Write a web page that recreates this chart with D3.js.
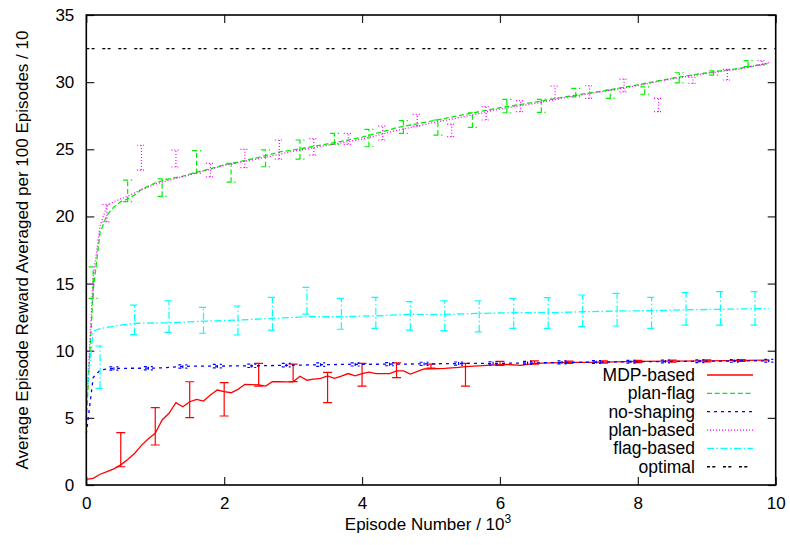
<!DOCTYPE html>
<html><head><meta charset="utf-8">
<script src="https://cdn.jsdelivr.net/npm/d3@7"></script>
<style>body{margin:0;background:#fff}svg{display:block}text{font-family:"Liberation Sans",Arial,sans-serif}</style>
</head><body><svg id="c" width="790" height="545"></svg>
<script>
const xTicks=[0,2,4,6,8,10];
const yTicks=[0,5,10,15,20,25,30,35];
const seriesNames=["MDP-based","plan-flag","no-shaping","plan-based","flag-based","optimal"];
const mdpBased=[[0,0.42],[0.1,0.5],[0.2,0.8],[0.3,0.99],[0.4,1.2],[0.5,1.5],[0.6,1.9],[0.7,2.35],[0.8,2.95],[0.9,3.45],[1.0,3.85],[1.1,4.84],[1.2,5.34],[1.3,6.13],[1.4,5.83],[1.5,6.2],[1.6,6.38],[1.7,6.25],[1.8,6.7],[1.9,7.07],[2.0,6.95],[2.1,6.87],[2.2,7.12],[2.3,7.5],[2.4,7.48],[2.5,7.45],[2.6,7.37],[2.7,7.69],[2.8,7.7],[2.9,7.68],[3.0,7.69],[3.1,8.1],[3.2,7.8],[3.3,7.88],[3.4,7.94],[3.5,8.13],[3.6,7.94],[3.7,8.1],[3.8,8.3],[3.9,8.13],[4.0,8.3],[4.1,8.41],[4.2,8.3],[4.4,8.3],[4.5,8.5],[4.6,8.5],[4.7,8.26],[4.9,8.64],[5.2,8.69],[5.4,8.76],[5.5,8.81],[6.0,8.96],[6.1,8.98],[6.3,8.91],[6.5,9.06],[7.0,9.13],[7.3,9.13],[8.0,9.2],[9.0,9.25],[9.9,9.3]];
const mdpErr=[[0.5,1.36,3.9],[1.0,2.98,5.76],[1.5,5.01,7.69],[2.0,5.14,7.62],[2.5,7.37,9.06],[3.0,7.7,9.0],[3.5,6.13,8.39],[4.0,7.37,9.06],[4.5,7.99,9.1],[5.0,8.7,9.0],[5.5,7.37,9.06],[6.0,8.9,9.2],[6.5,9.0,9.25],[7.0,9.05,9.22],[7.5,9.08,9.24],[8.0,9.12,9.28],[8.5,9.14,9.3],[9.0,9.17,9.32],[9.5,9.2,9.34]];
const planFlag=[[0,4.8],[0.1,14.5],[0.2,18.8],[0.3,20.1],[0.4,20.7],[0.5,21.1],[0.6,21.3],[0.7,21.6],[0.8,22.0],[1.0,22.5],[1.2,22.8],[1.4,23.0],[1.6,23.3],[1.8,23.55],[2.0,23.85],[2.2,24.05],[2.5,24.4],[2.8,24.8],[3.0,24.95],[3.5,25.4],[4.0,25.9],[4.5,26.6],[5.0,27.1],[5.5,27.6],[6.0,28.1],[6.5,28.5],[7.0,28.95],[7.5,29.35],[8.0,29.8],[8.5,30.3],[9.0,30.7],[9.5,31.05],[9.9,31.4]];
const planFlagErr=[[0.1,13.9,16.25],[0.6,21.1,22.7],[1.1,21.5,22.8],[1.6,23.2,24.9],[2.1,22.55,23.95],[2.6,23.7,24.95],[3.1,24.27,25.69],[3.6,25.37,26.19],[4.1,25.19,26.48],[4.6,26.19,27.13],[5.1,26.06,27.18],[5.6,26.63,27.72],[6.1,27.72,28.72],[6.6,27.75,28.72],[7.1,28.9,29.53],[7.6,28.79,29.41],[8.1,29.1,29.65],[8.6,29.95,30.7],[9.1,30.53,30.85],[9.6,31.15,31.6]];
const noShaping=[[0,3.8],[0.1,8.0],[0.2,8.55],[0.3,8.65],[0.5,8.69],[1.0,8.7],[1.5,8.85],[2.0,8.86],[2.5,8.88],[3.0,8.92],[3.7,8.98],[4.5,9.0],[5.5,9.05],[6.0,9.06],[7.0,9.13],[8.0,9.18],[9.0,9.22],[9.9,9.25]];
const noShapingErr=[[0.4,8.55,8.8],[0.9,8.58,8.82],[1.4,8.7,8.95],[1.9,8.72,8.98],[2.4,8.75,9.0],[2.9,8.8,9.05],[3.4,8.84,9.1],[3.9,8.86,9.1],[4.4,8.88,9.12],[4.9,8.9,9.14],[5.4,8.93,9.16],[5.9,8.95,9.18],[6.4,8.98,9.2],[6.9,9.02,9.24],[7.4,9.05,9.26],[7.9,9.08,9.28],[8.4,9.1,9.3],[8.9,9.12,9.32],[9.4,9.14,9.34],[9.9,9.15,9.35]];
const planBased=[[0,5.5],[0.1,15.5],[0.2,19.3],[0.3,20.8],[0.4,21.1],[0.5,21.3],[0.6,21.5],[0.8,22.0],[1.0,22.4],[1.2,22.7],[1.5,23.1],[2.0,23.8],[2.5,24.3],[3.0,24.85],[3.5,25.3],[4.0,25.75],[4.5,26.4],[5.0,26.95],[5.5,27.45],[6.0,28.0],[6.5,28.4],[7.0,28.9],[7.5,29.3],[8.0,29.75],[8.5,30.25],[9.0,30.65],[9.5,31.0],[9.9,31.45]];
const planBasedErr=[[0.3,19.6,20.9],[0.8,23.45,25.3],[1.3,23.68,24.94],[1.8,22.95,23.95],[2.3,23.63,25.0],[2.8,24.27,25.69],[3.3,24.57,25.8],[3.8,25.37,26.19],[4.3,25.69,26.73],[4.8,26.73,27.6],[5.3,25.94,26.88],[5.8,27.18,28.17],[6.3,27.8,28.62],[6.8,28.8,29.7],[7.3,28.79,29.73],[7.8,29.28,30.23],[8.3,27.8,28.79],[8.8,29.9,30.35],[9.3,30.16,30.95],[9.8,31.27,31.6]];
const flagBased=[[0,6.5],[0.1,11.45],[0.2,11.65],[0.5,11.9],[0.7,12.04],[1.2,12.08],[1.7,12.2],[2.2,12.28],[2.7,12.41],[3.2,12.53],[3.7,12.53],[4.2,12.6],[4.7,12.71],[5.2,12.71],[5.7,12.78],[6.2,12.83],[6.7,12.83],[7.2,12.9],[7.7,12.96],[8.2,12.98],[8.7,13.05],[9.2,13.08],[9.7,13.13],[9.9,13.13]];
const flagBasedErr=[[0.2,7.2,10.35],[0.7,11.2,13.4],[1.2,11.37,13.72],[1.7,11.3,13.23],[2.2,11.17,13.33],[2.7,11.54,13.97],[3.2,12.73,14.72],[3.7,11.6,13.9],[4.2,11.67,13.97],[4.7,11.54,13.65],[5.2,11.49,13.72],[5.7,11.41,13.72],[6.2,11.67,13.9],[6.7,11.67,13.95],[7.2,11.79,14.15],[7.7,11.84,14.27],[8.2,11.67,13.97],[8.7,11.91,14.32],[9.2,11.91,14.4],[9.7,11.91,14.4]];
const optimal=[[0,32.5],[10,32.5]];

const svg=d3.select("#c");
const L=86.3,R=775.7,T=15,B=485;
const x=d3.scaleLinear().domain([0,10]).range([L,R]);
const y=d3.scaleLinear().domain([0,35]).range([B,T]);
const fs=17;

const styles=[
 {name:seriesNames[0],data:mdpBased,err:mdpErr,color:"#ff0000",dash:null},
 {name:seriesNames[1],data:planFlag,err:planFlagErr,color:"#00ee00",dash:"5,2.7"},
 {name:seriesNames[2],data:noShaping,err:noShapingErr,color:"#0000ff",dash:"3,4"},
 {name:seriesNames[3],data:planBased,err:planBasedErr,color:"#ff00ff",dash:"1,2"},
 {name:seriesNames[4],data:flagBased,err:flagBasedErr,color:"#00ffff",dash:"7,2.5,1.5,2.5"},
 {name:seriesNames[5],data:optimal,err:[],color:"#000000",dash:"3,2.3,3,7.7"}
];

const gL=svg.append("g").attr("transform",`translate(${L},0)`).call(d3.axisLeft(y).tickValues(yTicks).tickSize(-8).tickPadding(12));
const gB=svg.append("g").attr("transform",`translate(0,${B})`).call(d3.axisBottom(x).tickValues(xTicks).tickSize(-8).tickPadding(12));
const gR=svg.append("g").attr("transform",`translate(${R},0)`).call(d3.axisRight(y).tickValues(yTicks).tickSize(-8).tickFormat(""));
const gT=svg.append("g").attr("transform",`translate(0,${T})`).call(d3.axisTop(x).tickValues(xTicks).tickSize(-8).tickFormat(""));
[gL,gB,gR,gT].forEach(g=>{g.select(".domain").remove();g.selectAll("line").attr("stroke","#222").attr("stroke-width",1.2);g.selectAll("text").attr("font-size",fs).attr("fill","#000").attr("font-family","Liberation Sans, Arial, sans-serif");});

const line=d3.line().x(d=>x(d[0])).y(d=>y(d[1]));
const plot=svg.append("g");
styles.forEach(s=>{
  const g=plot.append("g");
  const eg=g.selectAll("g.e").data(s.err).join("g");
  const cw=4.5;
  eg.append("path").attr("d",d=>`M${x(d[0])},${y(d[1])}V${y(d[2])}M${x(d[0])-cw},${y(d[1])}H${x(d[0])+cw}M${x(d[0])-cw},${y(d[2])}H${x(d[0])+cw}`)
    .attr("fill","none").attr("stroke",s.color).attr("stroke-width",1.2).attr("stroke-dasharray",s.dash);
  g.append("path").datum(s.data).attr("d",line).attr("fill","none").attr("stroke",s.color).attr("stroke-width",1.3).attr("stroke-dasharray",s.dash);
});

svg.append("rect").attr("x",L).attr("y",T).attr("width",R-L).attr("height",B-T).attr("fill","none").attr("stroke","#000").attr("stroke-width",1.6);

const lg=svg.append("g");
styles.forEach((s,i)=>{
  const by=381+i*18.35;
  lg.append("text").attr("x",695).attr("y",by).attr("text-anchor","end").attr("font-size",17.5).text(s.name);
  lg.append("line").attr("x1",707).attr("x2",753).attr("y1",by-6).attr("y2",by-6).attr("stroke",s.color).attr("stroke-width",1.3).attr("stroke-dasharray",s.dash);
});

const xl=svg.append("text").attr("x",428).attr("y",530).attr("text-anchor","middle").attr("font-size",fs);
xl.append("tspan").text("Episode Number / 10");
xl.append("tspan").attr("dy",-7).attr("font-size",12).text("3");
svg.append("text").attr("transform","translate(28,250) rotate(-90)").attr("text-anchor","middle").attr("font-size",fs).text("Average Episode Reward Averaged per 100 Episodes / 10");
</script></body></html>
